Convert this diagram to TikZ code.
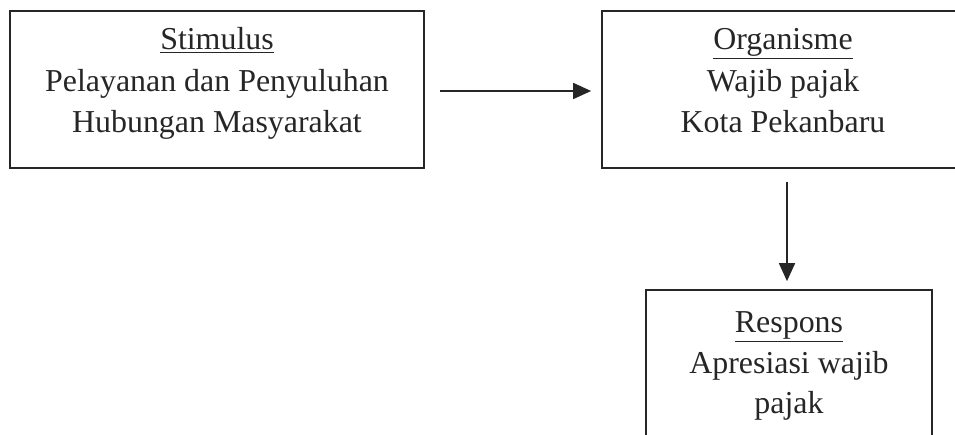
\documentclass[tikz,border=0pt]{standalone}
\usepackage{fontspec}
\setmainfont{Liberation Serif}
\usetikzlibrary{arrows.meta}
\definecolor{ink}{HTML}{262626}
\begin{document}
\begin{tikzpicture}[x=1pt,y=-1pt,
  box/.style={draw=ink,line width=1.7pt,rectangle,inner sep=0pt},
  txt/.style={anchor=base,inner sep=0pt,text=ink,font=\fontsize{31.9}{41.5}\selectfont},
  conn/.style={draw=ink,line width=1.7pt,-{Triangle[length=18pt,width=16pt]}}]
\useasboundingbox (0,0) rectangle (955,435);
\clip (0,0) rectangle (955,435);
% boxes
\node[box,minimum width=414pt,minimum height=157pt] (stim) at (217,89.5) {};
\node[box,minimum width=370pt,minimum height=157pt] (org) at (787,89.5) {};
\node[box,minimum width=286pt,minimum height=200pt] (resp) at (789,390) {};
% texts
\node[txt] (stimA) at (217,50) {\underline{Stimulus}};
\node[txt] (stimB) at (217,92) {Pelayanan dan Penyuluhan};
\node[txt] (stimC) at (217,133) {Hubungan Masyarakat};
\node[txt] (orgA) at (783,50) {\underline{Organisme}};
\node[txt] (orgB) at (783,92) {Wajib pajak};
\node[txt] (orgC) at (783,133) {Kota Pekanbaru};
\node[txt] (respA) at (789,333) {\underline{Respons}};
\node[txt] (respB) at (789,373) {Apresiasi wajib};
\node[txt] (respC) at (789,413) {pajak};
% connectors
\draw[conn,shorten <=15pt,shorten >=10pt] ([yshift=-1.5pt]stim.east) -- ([yshift=-1.5pt]org.west);
\draw[conn,shorten <=13pt,shorten >=8pt] (org.south) -- (org.south |- resp.north);
\end{tikzpicture}
\end{document}
